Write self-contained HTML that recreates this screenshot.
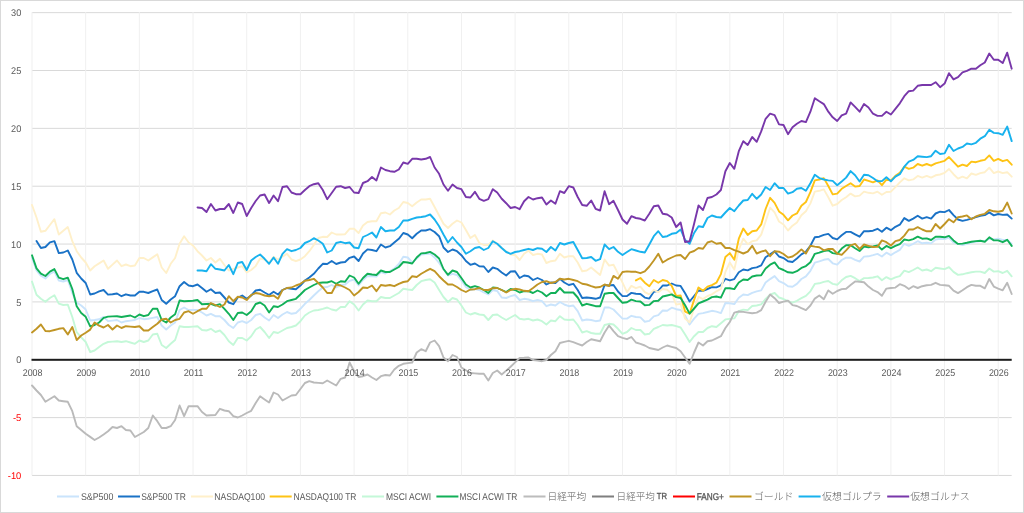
<!DOCTYPE html><html><head><meta charset="utf-8"><style>html,body{margin:0;padding:0;background:#fff;}svg{display:block;}text{text-rendering:geometricPrecision;}.t{font-family:"Liberation Sans","Noto Sans CJK JP",sans-serif;fill:#595959;}</style></head><body>
<svg width="1024" height="513" viewBox="0 0 1024 513">
<rect x="0" y="0" width="1024" height="513" fill="#fff"/>
<rect x="32" y="12.15" width="979.7" height="1" fill="#d9d9d9"/>
<rect x="32" y="70.00" width="979.7" height="1" fill="#d9d9d9"/>
<rect x="32" y="127.85" width="979.7" height="1" fill="#d9d9d9"/>
<rect x="32" y="185.70" width="979.7" height="1" fill="#d9d9d9"/>
<rect x="32" y="243.55" width="979.7" height="1" fill="#d9d9d9"/>
<rect x="32" y="301.40" width="979.7" height="1" fill="#d9d9d9"/>
<rect x="32" y="417.10" width="979.7" height="1" fill="#d9d9d9"/>
<rect x="32" y="474.95" width="979.7" height="1" fill="#d9d9d9"/>
<rect x="31.50" y="12.1" width="1" height="463.3" fill="#f0f0f0"/>
<rect x="85.18" y="12.1" width="1" height="463.3" fill="#f0f0f0"/>
<rect x="138.86" y="12.1" width="1" height="463.3" fill="#f0f0f0"/>
<rect x="192.54" y="12.1" width="1" height="463.3" fill="#f0f0f0"/>
<rect x="246.22" y="12.1" width="1" height="463.3" fill="#f0f0f0"/>
<rect x="299.90" y="12.1" width="1" height="463.3" fill="#f0f0f0"/>
<rect x="353.58" y="12.1" width="1" height="463.3" fill="#f0f0f0"/>
<rect x="407.26" y="12.1" width="1" height="463.3" fill="#f0f0f0"/>
<rect x="460.94" y="12.1" width="1" height="463.3" fill="#f0f0f0"/>
<rect x="514.62" y="12.1" width="1" height="463.3" fill="#f0f0f0"/>
<rect x="568.30" y="12.1" width="1" height="463.3" fill="#f0f0f0"/>
<rect x="621.98" y="12.1" width="1" height="463.3" fill="#f0f0f0"/>
<rect x="675.66" y="12.1" width="1" height="463.3" fill="#f0f0f0"/>
<rect x="729.34" y="12.1" width="1" height="463.3" fill="#f0f0f0"/>
<rect x="783.02" y="12.1" width="1" height="463.3" fill="#f0f0f0"/>
<rect x="836.70" y="12.1" width="1" height="463.3" fill="#f0f0f0"/>
<rect x="890.38" y="12.1" width="1" height="463.3" fill="#f0f0f0"/>
<rect x="944.06" y="12.1" width="1" height="463.3" fill="#f0f0f0"/>
<rect x="997.74" y="12.1" width="1" height="463.3" fill="#f0f0f0"/>
<rect x="31.5" y="358.8" width="980.2" height="2" fill="#1c1c1c"/>
<polyline points="32.0,258.0 36.5,270.5 40.9,275.8 45.4,278.5 49.9,274.0 54.4,271.5 58.8,280.5 63.3,281.5 67.8,280.0 72.3,293.0 76.7,302.5 81.2,305.5 85.7,309.5 90.2,320.5 94.6,320.0 99.1,319.3 103.6,316.9 108.0,321.1 112.5,320.6 117.0,320.0 121.5,322.5 125.9,321.2 130.4,320.6 134.9,320.0 139.4,318.0 143.8,319.2 148.3,318.8 152.8,317.9 157.3,317.0 161.7,325.5 166.2,329.5 170.7,325.5 175.1,322.5 179.6,310.0 184.1,307.5 188.6,310.0 193.0,310.0 197.5,310.0 202.0,312.5 206.5,315.5 210.9,313.8 215.4,316.2 219.9,316.2 224.4,320.0 228.8,325.0 233.3,328.0 237.8,322.5 242.2,321.2 246.7,323.0 251.2,320.0 255.7,315.0 260.1,313.8 264.6,317.5 269.1,320.5 273.6,315.0 278.0,318.0 282.5,314.5 287.0,312.0 291.5,313.8 295.9,313.0 300.4,308.8 304.9,303.8 309.3,300.0 313.8,295.5 318.3,291.2 322.8,287.5 327.2,287.0 331.7,285.0 336.2,287.5 340.7,285.0 345.1,284.5 349.6,280.8 354.1,279.5 358.6,285.5 363.0,280.0 367.5,276.0 372.0,276.2 376.4,276.5 380.9,272.0 385.4,273.5 389.9,271.0 394.3,268.5 398.8,264.0 403.3,256.7 407.8,257.5 412.2,262.5 416.7,258.5 421.2,254.5 425.7,254.0 430.1,253.5 434.6,257.5 439.1,263.0 443.5,269.2 448.0,275.5 452.5,273.8 457.0,275.0 461.4,280.5 465.9,287.0 470.4,290.0 474.9,289.0 479.3,290.0 483.8,292.5 488.3,294.5 492.8,290.0 497.2,291.0 501.7,297.5 506.2,298.0 510.6,296.2 515.1,295.0 519.6,300.0 524.1,298.8 528.5,299.5 533.0,301.2 537.5,300.0 542.0,301.2 546.4,306.2 550.9,304.5 555.4,305.5 559.9,302.0 564.3,304.5 568.8,306.2 573.3,305.5 577.7,311.2 582.2,320.5 586.7,319.5 591.2,320.0 595.6,321.2 600.1,320.5 604.6,307.5 609.1,307.5 613.5,309.5 618.0,314.1 622.5,318.6 627.0,318.6 631.4,315.8 635.9,317.0 640.4,317.4 644.8,321.7 649.3,320.9 653.8,316.3 658.3,315.2 662.7,310.5 667.2,310.8 671.7,307.7 676.2,309.2 680.6,310.0 685.1,315.5 689.6,324.5 694.1,318.6 698.5,313.9 703.0,313.1 707.5,312.0 711.9,310.8 716.4,311.6 720.9,313.1 725.4,303.0 729.8,303.3 734.3,304.1 738.8,297.8 743.3,294.5 747.7,295.1 752.2,292.8 756.7,291.4 761.2,290.4 765.6,282.5 770.1,279.1 774.6,276.1 779.0,281.1 783.5,283.1 788.0,286.3 792.5,286.7 796.9,283.9 801.4,279.0 805.9,276.4 810.4,270.8 814.8,262.7 819.3,261.3 823.8,259.8 828.3,259.0 832.7,263.3 837.2,264.6 841.7,260.0 846.1,257.7 850.6,257.7 855.1,259.9 859.6,261.5 864.0,256.6 868.5,256.3 873.0,255.2 877.5,253.9 881.9,256.5 886.4,252.7 890.9,255.1 895.4,252.3 899.8,249.9 904.3,243.8 908.8,245.9 913.2,243.8 917.7,241.2 922.2,243.3 926.7,242.7 931.1,243.4 935.6,239.5 940.1,238.7 944.6,239.1 949.0,237.7 953.5,242.5 958.0,243.9 962.5,245.0 966.9,243.9 971.4,242.5 975.9,241.8 980.3,241.1 984.8,241.1 989.3,238.7 993.8,239.5 998.2,238.7 1002.7,240.0 1007.2,240.0 1011.7,243.9" fill="none" stroke="#cae4fc" stroke-width="1.9" stroke-linejoin="round" stroke-linecap="round"/>
<polyline points="36.5,241.0 40.9,248.0 45.4,247.0 49.9,242.3 54.4,241.2 58.8,253.1 63.3,252.5 67.8,250.5 72.3,259.5 76.7,272.8 81.2,278.5 85.7,283.0 90.2,294.5 94.6,293.5 99.1,291.4 103.6,290.0 108.0,294.6 112.5,294.3 117.0,293.5 121.5,296.2 125.9,294.3 130.4,295.5 134.9,295.5 139.4,291.8 143.8,291.8 148.3,293.0 152.8,291.2 157.3,289.5 161.7,300.0 166.2,303.8 170.7,299.5 175.1,296.2 179.6,286.2 184.1,282.0 188.6,285.5 193.0,286.2 197.5,284.5 202.0,288.0 206.5,291.8 210.9,289.2 215.4,293.0 219.9,292.5 224.4,297.5 228.8,302.5 233.3,304.2 237.8,297.5 242.2,295.5 246.7,298.8 251.2,295.5 255.7,290.5 260.1,289.8 264.6,292.5 269.1,295.0 273.6,291.8 278.0,294.5 282.5,290.0 287.0,288.0 291.5,288.8 295.9,289.2 300.4,285.5 304.9,280.5 309.3,277.5 313.8,273.8 318.3,268.5 322.8,263.8 327.2,264.0 331.7,261.0 336.2,264.0 340.7,262.5 345.1,262.0 349.6,257.8 354.1,256.5 358.6,261.0 363.0,253.5 367.5,249.4 372.0,250.0 376.4,251.2 380.9,244.5 385.4,247.5 389.9,246.2 394.3,242.5 398.8,238.8 403.3,233.0 407.8,234.5 412.2,238.2 416.7,233.8 421.2,230.5 425.7,230.5 430.1,229.2 434.6,232.0 439.1,236.2 443.5,247.5 448.0,252.0 452.5,249.5 457.0,251.2 461.4,255.2 465.9,261.0 470.4,264.8 474.9,263.5 479.3,266.2 483.8,266.5 488.3,272.0 492.8,267.5 497.2,268.8 501.7,272.5 506.2,275.5 510.6,271.5 515.1,271.2 519.6,278.0 524.1,275.5 528.5,276.2 533.0,280.0 537.5,278.0 542.0,280.0 546.4,284.5 550.9,282.5 555.4,283.0 559.9,278.8 564.3,282.5 568.8,285.0 573.3,283.8 577.7,290.0 582.2,298.0 586.7,297.5 591.2,298.0 595.6,298.8 600.1,297.5 604.6,285.0 609.1,285.5 613.5,285.0 618.0,291.5 622.5,296.1 627.0,296.0 631.4,292.9 635.9,293.7 640.4,294.0 644.8,297.6 649.3,298.6 653.8,291.8 658.3,290.8 662.7,285.5 667.2,285.5 671.7,283.5 676.2,285.5 680.6,285.9 685.1,293.3 689.6,301.5 694.1,296.0 698.5,290.5 703.0,290.8 707.5,289.0 711.9,287.2 716.4,287.4 720.9,285.4 725.4,278.8 729.8,280.4 734.3,279.1 738.8,272.2 743.3,269.5 747.7,270.4 752.2,268.1 756.7,267.4 761.2,265.4 765.6,257.2 770.1,254.4 774.6,251.3 779.0,256.5 783.5,258.1 788.0,261.3 792.5,262.0 796.9,258.5 801.4,254.4 805.9,251.7 810.4,245.8 814.8,237.3 819.3,236.7 823.8,234.9 828.3,233.9 832.7,238.0 837.2,239.4 841.7,235.3 846.1,231.9 850.6,231.9 855.1,234.3 859.6,236.7 864.0,231.2 868.5,231.2 873.0,230.7 877.5,228.8 881.9,231.8 886.4,227.7 890.9,230.2 895.4,226.8 899.8,224.7 904.3,218.1 908.8,220.9 913.2,218.6 917.7,215.8 922.2,218.6 926.7,217.2 931.1,218.6 935.6,213.5 940.1,211.7 944.6,212.1 949.0,210.0 953.5,215.1 958.0,219.5 962.5,220.9 966.9,219.9 971.4,218.6 975.9,217.2 980.3,215.8 984.8,215.1 989.3,212.4 993.8,215.4 998.2,214.0 1002.7,214.9 1007.2,214.5 1011.7,218.6" fill="none" stroke="#1a72c6" stroke-width="1.9" stroke-linejoin="round" stroke-linecap="round"/>
<polyline points="32.0,205.0 36.5,217.5 40.9,231.8 45.4,230.8 49.9,225.0 54.4,219.2 58.8,234.5 63.3,230.8 67.8,227.0 72.3,241.2 76.7,251.2 81.2,257.5 85.7,262.5 90.2,270.5 94.6,266.2 99.1,263.4 103.6,260.5 108.0,268.8 112.5,264.6 117.0,260.5 121.5,266.2 125.9,264.5 130.4,266.2 134.9,265.5 139.4,258.0 143.8,258.0 148.3,260.5 152.8,257.4 157.3,254.2 161.7,267.5 166.2,273.0 170.7,263.8 175.1,258.0 179.6,243.8 184.1,236.2 188.6,242.5 193.0,245.5 197.5,251.2 202.0,255.5 206.5,260.5 210.9,258.0 215.4,262.5 219.9,258.8 224.4,265.0 228.8,270.5 233.3,268.8 237.8,267.5 242.2,266.2 246.7,272.5 251.2,270.0 255.7,266.1 260.1,258.5 264.6,259.5 269.1,262.5 273.6,256.8 278.0,259.5 282.5,256.6 287.0,253.8 291.5,259.5 295.9,261.2 300.4,259.5 304.9,256.2 309.3,251.2 313.8,245.0 318.3,238.0 322.8,236.8 327.2,237.0 331.7,232.5 336.2,234.5 340.7,234.5 345.1,234.2 349.6,228.8 354.1,228.8 358.6,233.0 363.0,225.5 367.5,222.0 372.0,221.2 376.4,221.2 380.9,213.2 385.4,212.5 389.9,214.5 394.3,210.5 398.8,208.0 403.3,202.0 407.8,203.0 412.2,206.2 416.7,202.5 421.2,199.5 425.7,199.5 430.1,198.8 434.6,207.0 439.1,215.5 443.5,223.8 448.0,228.0 452.5,223.8 457.0,220.5 461.4,222.5 465.9,230.0 470.4,238.0 474.9,235.0 479.3,243.0 483.8,245.0 488.3,245.0 492.8,240.5 497.2,243.8 501.7,248.0 506.2,251.2 510.6,254.5 515.1,255.0 519.6,260.0 524.1,253.8 528.5,250.8 533.0,255.0 537.5,253.8 542.0,254.5 546.4,263.0 550.9,261.2 555.4,260.5 559.9,253.8 564.3,257.5 568.8,256.2 573.3,256.2 577.7,262.5 582.2,271.2 586.7,270.5 591.2,267.5 595.6,271.2 600.1,275.0 604.6,259.5 609.1,265.6 613.5,264.8 618.0,273.4 622.5,282.7 627.0,292.1 631.4,285.9 635.9,288.2 640.4,286.6 644.8,292.1 649.3,294.4 653.8,289.8 658.3,292.1 662.7,289.0 667.2,289.8 671.7,293.7 676.2,304.6 680.6,303.8 685.1,318.6 689.6,322.5 694.1,308.5 698.5,296.8 703.0,299.1 707.5,296.0 711.9,294.4 716.4,291.3 720.9,289.0 725.4,271.9 729.8,262.5 734.3,269.5 738.8,249.6 743.3,238.7 747.7,244.2 752.2,241.2 756.7,240.4 761.2,234.6 765.6,221.5 770.1,207.7 774.6,212.4 779.0,221.5 783.5,224.5 788.0,230.5 792.5,225.7 796.9,222.5 801.4,215.2 805.9,211.3 810.4,203.4 814.8,191.6 819.3,190.8 823.8,189.4 828.3,197.2 832.7,205.7 837.2,204.0 841.7,200.0 846.1,197.2 850.6,193.6 855.1,196.4 859.6,195.6 864.0,191.6 868.5,192.8 873.0,193.4 877.5,191.7 881.9,194.7 886.4,192.0 890.9,191.7 895.4,187.2 899.8,182.4 904.3,178.3 908.8,180.4 913.2,179.4 917.7,175.9 922.2,177.6 926.7,175.9 931.1,177.6 935.6,175.3 940.1,174.5 944.6,172.9 949.0,169.0 953.5,174.2 958.0,178.6 962.5,176.7 966.9,178.3 971.4,173.5 975.9,174.9 980.3,173.1 984.8,172.2 989.3,167.7 993.8,173.1 998.2,171.5 1002.7,173.1 1007.2,172.2 1011.7,176.7" fill="none" stroke="#fff0ca" stroke-width="1.9" stroke-linejoin="round" stroke-linecap="round"/>
<polyline points="635.9,280.4 640.4,278.0 644.8,282.7 649.3,286.2 653.8,280.0 658.3,282.7 662.7,280.0 667.2,281.2 671.7,285.9 676.2,296.0 680.6,295.5 685.1,311.6 689.6,313.6 694.1,299.9 698.5,287.4 703.0,290.8 707.5,286.6 711.9,285.1 716.4,282.7 720.9,274.1 725.4,257.0 729.8,253.1 734.3,259.7 738.8,238.7 743.3,228.5 747.7,234.9 752.2,231.2 756.7,230.5 761.2,224.4 765.6,209.0 770.1,197.8 774.6,202.9 779.0,211.4 783.5,214.8 788.0,220.3 792.5,215.5 796.9,213.4 801.4,205.7 805.9,202.0 810.4,192.2 814.8,180.4 819.3,179.5 823.8,178.1 828.3,186.0 832.7,194.4 837.2,193.6 841.7,188.8 846.1,186.0 850.6,183.2 855.1,186.6 859.6,186.0 864.0,179.5 868.5,180.9 873.0,182.4 877.5,180.4 881.9,185.2 886.4,179.7 890.9,180.4 895.4,175.9 899.8,172.9 904.3,166.7 908.8,168.8 913.2,167.7 917.7,164.0 922.2,165.7 926.7,164.0 931.1,165.7 935.6,163.3 940.1,162.2 944.6,160.8 949.0,157.1 953.5,161.9 958.0,166.7 962.5,164.7 966.9,166.0 971.4,161.6 975.9,162.2 980.3,160.8 984.8,159.9 989.3,155.4 993.8,160.8 998.2,158.9 1002.7,161.2 1007.2,159.9 1011.7,164.7" fill="none" stroke="#fec315" stroke-width="1.9" stroke-linejoin="round" stroke-linecap="round"/>
<polyline points="32.0,281.6 36.5,294.7 40.9,298.8 45.4,301.8 49.9,298.0 54.4,295.2 58.8,303.6 63.3,305.0 67.8,304.6 72.3,317.0 76.7,332.2 81.2,337.4 85.7,342.0 90.2,352.0 94.6,350.5 99.1,347.1 103.6,343.8 108.0,342.0 112.5,341.6 117.0,341.2 121.5,342.0 125.9,341.2 130.4,342.5 134.9,343.8 139.4,340.5 143.8,342.0 148.3,340.5 152.8,334.5 157.3,333.8 161.7,345.0 166.2,348.0 170.7,343.8 175.1,340.0 179.6,326.2 184.1,327.0 188.6,327.0 193.0,326.6 197.5,326.2 202.0,330.0 206.5,330.5 210.9,328.8 215.4,332.0 219.9,330.5 224.4,335.0 228.8,341.2 233.3,345.0 237.8,338.0 242.2,338.0 246.7,340.5 251.2,336.2 255.7,329.5 260.1,327.0 264.6,332.0 269.1,338.0 273.6,332.0 278.0,333.0 282.5,330.5 287.0,328.0 291.5,327.0 295.9,325.5 300.4,321.2 304.9,315.5 309.3,312.5 313.8,310.5 318.3,310.0 322.8,308.8 327.2,307.5 331.7,309.5 336.2,310.5 340.7,307.0 345.1,307.0 349.6,301.2 354.1,304.5 358.6,310.5 363.0,304.5 367.5,300.5 372.0,301.2 376.4,301.2 380.9,297.0 385.4,298.0 389.9,298.0 394.3,295.5 398.8,293.0 403.3,288.8 407.8,289.5 412.2,290.0 416.7,285.0 421.2,281.2 425.7,280.0 430.1,279.2 434.6,282.5 439.1,290.0 443.5,297.0 448.0,302.0 452.5,298.0 457.0,299.5 461.4,305.5 465.9,312.5 470.4,314.5 474.9,313.0 479.3,314.5 483.8,315.0 488.3,320.0 492.8,315.0 497.2,314.5 501.7,317.5 506.2,320.0 510.6,317.5 515.1,315.0 519.6,318.8 524.1,319.5 528.5,318.8 533.0,320.5 537.5,319.5 542.0,321.2 546.4,324.5 550.9,320.5 555.4,321.2 559.9,316.2 564.3,319.5 568.8,320.0 573.3,319.5 577.7,325.0 582.2,332.5 586.7,331.2 591.2,333.0 595.6,333.8 600.1,333.8 604.6,325.0 609.1,323.8 613.5,324.5 618.0,328.8 622.5,333.8 627.0,332.0 631.4,328.0 635.9,330.0 640.4,330.0 644.8,334.5 649.3,333.8 653.8,328.8 658.3,327.0 662.7,325.0 667.2,325.5 671.7,325.0 676.2,326.2 680.6,327.5 685.1,334.5 689.6,342.0 694.1,336.2 698.5,332.0 703.0,332.0 707.5,328.0 711.9,326.2 716.4,327.0 720.9,323.2 725.4,319.4 729.8,318.9 734.3,318.4 738.8,311.2 743.3,309.6 747.7,310.1 752.2,306.0 756.7,305.5 761.2,304.4 765.6,298.9 770.1,294.6 774.6,293.0 779.0,297.5 783.5,299.0 788.0,301.2 792.5,302.7 796.9,300.8 801.4,298.1 805.9,295.9 810.4,291.3 814.8,283.9 819.3,283.3 823.8,281.9 828.3,281.0 832.7,283.9 837.2,284.8 841.7,280.3 846.1,277.0 850.6,275.9 855.1,278.2 859.6,281.0 864.0,278.1 868.5,278.0 873.0,277.5 877.5,276.3 881.9,280.3 886.4,277.1 890.9,279.4 895.4,277.4 899.8,276.1 904.3,270.6 908.8,272.1 913.2,270.0 917.7,267.5 922.2,270.5 926.7,269.5 931.1,271.2 935.6,267.8 940.1,268.5 944.6,269.1 949.0,267.1 953.5,271.9 958.0,274.9 962.5,274.3 966.9,273.2 971.4,272.3 975.9,271.6 980.3,271.6 984.8,273.0 989.3,268.5 993.8,271.6 998.2,271.2 1002.7,273.0 1007.2,270.8 1011.7,276.3" fill="none" stroke="#c4f8d8" stroke-width="1.9" stroke-linejoin="round" stroke-linecap="round"/>
<polyline points="32.0,255.3 36.5,268.4 40.9,273.7 45.4,276.0 49.9,271.6 54.4,269.1 58.8,277.6 63.3,279.2 67.8,277.7 72.3,289.0 76.7,306.2 81.2,313.1 85.7,316.8 90.2,326.3 94.6,325.0 99.1,322.5 103.6,317.8 108.0,316.6 112.5,316.4 117.0,316.2 121.5,317.0 125.9,316.2 130.4,315.5 134.9,317.5 139.4,314.5 143.8,316.2 148.3,315.0 152.8,308.8 157.3,308.8 161.7,320.0 166.2,322.5 170.7,317.5 175.1,314.2 179.6,300.5 184.1,301.2 188.6,301.0 193.0,300.8 197.5,300.0 202.0,304.2 206.5,304.0 210.9,303.8 215.4,305.5 219.9,304.2 224.4,308.8 228.8,313.8 233.3,320.0 237.8,313.0 242.2,312.5 246.7,315.0 251.2,311.2 255.7,304.0 260.1,302.5 264.6,305.5 269.1,312.5 273.6,306.2 278.0,307.0 282.5,304.5 287.0,301.2 291.5,300.0 295.9,298.8 300.4,294.5 304.9,290.0 309.3,287.5 313.8,285.0 318.3,283.0 322.8,282.5 327.2,282.5 331.7,281.2 336.2,283.8 340.7,281.2 345.1,281.8 349.6,275.5 354.1,277.5 358.6,283.8 363.0,278.0 367.5,273.8 372.0,274.5 376.4,275.0 380.9,270.5 385.4,272.0 389.9,272.0 394.3,269.5 398.8,267.0 403.3,262.0 407.8,262.5 412.2,263.5 416.7,257.5 421.2,253.4 425.7,253.0 430.1,251.9 434.6,254.5 439.1,258.5 443.5,269.0 448.0,274.8 452.5,270.5 457.0,272.0 461.4,278.0 465.9,284.5 470.4,287.5 474.9,286.2 479.3,287.5 483.8,290.0 488.3,293.0 492.8,287.5 497.2,288.0 501.7,290.0 506.2,292.0 510.6,289.0 515.1,290.0 519.6,292.5 524.1,291.2 528.5,291.2 533.0,293.0 537.5,290.5 542.0,292.5 546.4,296.2 550.9,293.0 555.4,293.0 559.9,288.0 564.3,292.5 568.8,292.5 573.3,292.5 577.7,297.5 582.2,305.5 586.7,303.8 591.2,305.0 595.6,306.2 600.1,306.2 604.6,293.8 609.1,293.0 613.5,293.0 618.0,298.0 622.5,302.8 627.0,302.2 631.4,299.6 635.9,301.1 640.4,301.5 644.8,305.3 649.3,304.9 653.8,301.1 658.3,300.7 662.7,296.5 667.2,295.5 671.7,294.4 676.2,297.1 680.6,298.0 685.1,305.3 689.6,313.6 694.1,308.5 698.5,303.3 703.0,301.5 707.5,299.6 711.9,297.1 716.4,296.5 720.9,297.6 725.4,288.2 729.8,288.2 734.3,289.1 738.8,282.5 743.3,279.5 747.7,280.0 752.2,276.5 756.7,275.5 761.2,275.2 765.6,268.5 770.1,264.7 774.6,262.4 779.0,268.2 783.5,270.0 788.0,272.3 792.5,272.8 796.9,271.2 801.4,267.9 805.9,266.1 810.4,262.3 814.8,253.8 819.3,252.7 823.8,251.0 828.3,250.3 832.7,253.1 837.2,253.8 841.7,248.6 846.1,245.3 850.6,245.3 855.1,248.3 859.6,251.0 864.0,246.6 868.5,247.2 873.0,246.5 877.5,245.5 881.9,249.6 886.4,245.9 890.9,248.2 895.4,245.9 899.8,244.1 904.3,239.5 908.8,240.4 913.2,239.1 917.7,236.7 922.2,238.7 926.7,238.4 931.1,240.0 935.6,236.7 940.1,236.7 944.6,237.3 949.0,235.9 953.5,240.4 958.0,243.9 962.5,243.6 966.9,242.8 971.4,241.8 975.9,241.1 980.3,240.8 984.8,241.8 989.3,237.3 993.8,240.4 998.2,240.4 1002.7,242.2 1007.2,239.8 1011.7,245.9" fill="none" stroke="#12b058" stroke-width="1.9" stroke-linejoin="round" stroke-linecap="round"/>
<polyline points="32.0,385.5 36.5,390.5 40.9,395.0 45.4,401.8 49.9,399.0 54.4,396.2 58.8,400.5 63.3,401.2 67.8,401.8 72.3,411.2 76.7,426.2 81.2,430.0 85.7,433.8 90.2,436.9 94.6,440.0 99.1,437.5 103.6,434.5 108.0,431.2 112.5,427.0 117.0,428.0 121.5,426.2 125.9,430.0 130.4,430.5 134.9,437.0 139.4,434.5 143.8,432.0 148.3,428.0 152.8,415.5 157.3,421.2 161.7,428.0 166.2,428.0 170.7,426.2 175.1,420.0 179.6,405.5 184.1,416.2 188.6,406.2 193.0,406.2 197.5,406.2 202.0,412.0 206.5,415.5 210.9,415.2 215.4,415.0 219.9,408.8 224.4,410.5 228.8,411.2 233.3,416.2 237.8,417.5 242.2,415.5 246.7,413.0 251.2,410.8 255.7,403.0 260.1,396.2 264.6,399.4 269.1,402.5 273.6,392.5 278.0,394.5 282.5,400.5 287.0,398.0 291.5,395.5 295.9,395.0 300.4,389.0 304.9,383.0 309.3,381.2 313.8,382.5 318.3,382.9 322.8,383.2 327.2,380.5 331.7,383.0 336.2,385.5 340.7,378.8 345.1,377.5 349.6,362.5 354.1,371.2 358.6,377.0 363.0,376.2 367.5,374.5 372.0,377.5 376.4,380.0 380.9,376.2 385.4,375.0 389.9,375.5 394.3,369.5 398.8,365.8 403.3,363.8 407.8,363.1 412.2,362.5 416.7,352.5 421.2,349.2 425.7,351.2 430.1,342.5 434.6,340.5 439.1,346.2 443.5,357.5 448.0,361.2 452.5,355.0 457.0,357.0 461.4,367.5 465.9,370.2 470.4,373.0 474.9,373.4 479.3,373.8 483.8,373.8 488.3,380.5 492.8,373.0 497.2,370.5 501.7,374.5 506.2,370.6 510.6,366.8 515.1,362.4 519.6,358.0 524.1,357.8 528.5,357.5 533.0,360.0 537.5,360.6 542.0,361.2 546.4,360.0 550.9,355.0 555.4,351.2 559.9,343.0 564.3,341.9 568.8,340.8 573.3,342.2 577.7,343.8 582.2,345.5 586.7,342.0 591.2,339.2 595.6,340.2 600.1,341.2 604.6,332.5 609.1,325.5 613.5,331.2 618.0,336.2 622.5,337.8 627.0,339.2 631.4,337.0 635.9,342.5 640.4,343.8 644.8,345.5 649.3,348.0 653.8,349.0 658.3,350.0 662.7,347.5 667.2,345.5 671.7,346.8 676.2,348.0 680.6,351.2 685.1,357.5 689.6,363.8 694.1,352.5 698.5,342.5 703.0,345.5 707.5,341.2 711.9,340.5 716.4,338.4 720.9,336.2 725.4,328.0 729.8,322.0 734.3,312.6 738.8,311.5 743.3,311.9 747.7,312.6 752.2,313.3 756.7,312.6 761.2,310.1 765.6,301.7 770.1,294.5 774.6,298.2 779.0,303.0 783.5,301.7 788.0,300.6 792.5,305.1 796.9,306.0 801.4,308.2 805.9,310.1 810.4,305.5 814.8,298.6 819.3,295.5 823.8,299.2 828.3,290.4 832.7,293.7 837.2,291.0 841.7,289.1 846.1,288.7 850.6,285.0 855.1,281.4 859.6,281.8 864.0,282.2 868.5,286.6 873.0,290.0 877.5,292.1 881.9,295.8 886.4,288.6 890.9,288.0 895.4,287.6 899.8,284.2 904.3,285.8 908.8,289.0 913.2,286.2 917.7,288.0 922.2,286.2 926.7,285.3 931.1,284.9 935.6,282.8 940.1,284.9 944.6,285.3 949.0,285.8 953.5,290.7 958.0,293.1 962.5,290.3 966.9,287.2 971.4,284.9 975.9,285.8 980.3,285.8 984.8,288.3 989.3,279.0 993.8,286.6 998.2,288.6 1002.7,290.3 1007.2,282.8 1011.7,294.0" fill="none" stroke="#bababa" stroke-width="1.9" stroke-linejoin="round" stroke-linecap="round"/>
<polyline points="32.0,332.5 36.5,328.8 40.9,324.5 45.4,331.0 49.9,331.2 54.4,330.0 58.8,328.8 63.3,328.1 67.8,334.4 72.3,327.0 76.7,340.0 81.2,335.5 85.7,332.7 90.2,329.6 94.6,322.6 99.1,325.6 103.6,327.5 108.0,325.0 112.5,329.5 117.0,325.5 121.5,328.0 125.9,326.2 130.4,326.6 134.9,327.0 139.4,326.2 143.8,330.5 148.3,330.5 152.8,327.1 157.3,323.8 161.7,319.5 166.2,318.8 170.7,322.5 175.1,320.0 179.6,318.8 184.1,312.5 188.6,311.2 193.0,313.8 197.5,311.2 202.0,308.8 206.5,308.8 210.9,303.0 215.4,305.0 219.9,307.0 224.4,304.5 228.8,296.2 233.3,301.2 237.8,296.8 242.2,297.5 246.7,300.0 251.2,295.0 255.7,293.0 260.1,293.8 264.6,295.5 269.1,296.2 273.6,295.5 278.0,298.8 282.5,290.0 287.0,288.0 291.5,287.5 295.9,285.5 300.4,283.8 304.9,280.8 309.3,280.0 313.8,278.8 318.3,283.0 322.8,287.5 327.2,293.0 331.7,293.0 336.2,284.5 340.7,285.5 345.1,287.5 349.6,290.0 354.1,295.5 358.6,292.0 363.0,287.5 367.5,288.0 372.0,285.5 376.4,291.2 380.9,285.0 385.4,285.8 389.9,285.0 394.3,286.2 398.8,283.8 403.3,282.0 407.8,281.2 412.2,276.2 416.7,277.0 421.2,273.8 425.7,271.2 430.1,268.8 434.6,271.2 439.1,276.2 443.5,280.5 448.0,284.5 452.5,284.5 457.0,287.0 461.4,290.0 465.9,292.0 470.4,289.5 474.9,289.2 479.3,288.0 483.8,290.0 488.3,290.0 492.8,288.2 497.2,288.0 501.7,290.0 506.2,292.5 510.6,290.0 515.1,288.8 519.6,289.5 524.1,290.8 528.5,291.2 533.0,288.0 537.5,284.5 542.0,282.0 546.4,281.2 550.9,283.0 555.4,282.0 559.9,278.8 564.3,279.5 568.8,278.8 573.3,280.0 577.7,281.2 582.2,283.8 586.7,284.5 591.2,286.2 595.6,287.5 600.1,287.0 604.6,284.5 609.1,286.0 613.5,275.9 618.0,278.8 622.5,272.0 627.0,271.4 631.4,271.8 635.9,271.8 640.4,273.2 644.8,271.4 649.3,266.5 653.8,260.5 658.3,253.8 662.7,262.5 667.2,259.7 671.7,257.5 676.2,255.5 680.6,255.0 685.1,259.0 689.6,252.7 694.1,251.0 698.5,248.0 703.0,248.8 707.5,242.5 711.9,241.2 716.4,243.8 720.9,243.0 725.4,248.0 729.8,248.0 734.3,250.2 738.8,251.7 743.3,253.5 747.7,251.7 752.2,245.8 756.7,253.5 761.2,251.7 765.6,250.3 770.1,256.2 774.6,251.3 779.0,251.7 783.5,254.0 788.0,257.6 792.5,256.5 796.9,253.5 801.4,249.4 805.9,253.5 810.4,245.8 814.8,246.6 819.3,247.2 823.8,250.3 828.3,249.0 832.7,249.0 837.2,253.5 841.7,254.8 846.1,250.3 850.6,245.3 855.1,243.9 859.6,249.0 864.0,244.5 868.5,245.8 873.0,247.0 877.5,246.9 881.9,240.4 886.4,242.2 890.9,245.5 895.4,241.1 899.8,240.0 904.3,235.6 908.8,229.5 913.2,229.5 917.7,227.2 922.2,229.5 926.7,231.3 931.1,231.3 935.6,224.0 940.1,228.5 944.6,224.0 949.0,219.2 953.5,222.3 958.0,217.2 962.5,216.5 966.9,215.4 971.4,219.2 975.9,216.5 980.3,214.9 984.8,213.8 989.3,210.0 993.8,211.3 998.2,211.7 1002.7,210.8 1007.2,202.6 1011.7,213.5" fill="none" stroke="#c09525" stroke-width="1.9" stroke-linejoin="round" stroke-linecap="round"/>
<polyline points="197.5,270.5 202.0,270.5 206.5,271.2 210.9,264.2 215.4,268.8 219.9,269.5 224.4,270.5 228.8,265.0 233.3,274.2 237.8,263.0 242.2,262.0 246.7,270.0 251.2,260.5 255.7,257.0 260.1,254.5 264.6,258.8 269.1,263.8 273.6,257.5 278.0,263.8 282.5,253.8 287.0,249.2 291.5,251.2 295.9,250.0 300.4,248.0 304.9,243.0 309.3,241.2 313.8,238.2 318.3,240.5 322.8,243.8 327.2,252.5 331.7,250.5 336.2,243.0 340.7,241.8 345.1,243.2 349.6,242.5 354.1,247.5 358.6,248.2 363.0,237.0 367.5,235.0 372.0,232.5 376.4,237.5 380.9,227.0 385.4,231.2 389.9,230.5 394.3,230.5 398.8,227.0 403.3,220.5 407.8,220.5 412.2,218.8 416.7,217.5 421.2,217.0 425.7,216.2 430.1,214.5 434.6,219.5 439.1,226.2 443.5,234.5 448.0,242.5 452.5,237.0 457.0,242.5 461.4,247.0 465.9,253.8 470.4,251.2 474.9,248.0 479.3,247.0 483.8,250.0 488.3,248.0 492.8,241.2 497.2,243.8 501.7,248.0 506.2,252.0 510.6,253.8 515.1,252.0 519.6,251.2 524.1,250.0 528.5,248.8 533.0,250.0 537.5,248.2 542.0,248.8 546.4,252.0 550.9,247.0 555.4,250.5 559.9,243.0 564.3,244.5 568.8,243.0 573.3,242.0 577.7,250.0 582.2,258.2 586.7,258.0 591.2,257.0 595.6,260.8 600.1,259.2 604.6,244.5 609.1,249.2 613.5,247.0 618.0,251.8 622.5,255.0 627.0,252.0 631.4,249.2 635.9,250.5 640.4,251.8 644.8,252.5 649.3,244.5 653.8,236.2 658.3,231.2 662.7,237.0 667.2,236.2 671.7,233.8 676.2,233.0 680.6,229.5 685.1,240.0 689.6,243.8 694.1,233.0 698.5,226.2 703.0,227.0 707.5,218.0 711.9,215.5 716.4,217.0 720.9,217.5 725.4,212.5 729.8,208.0 734.3,211.2 738.8,205.5 743.3,200.5 747.7,200.0 752.2,193.8 756.7,198.8 761.2,194.5 765.6,187.0 770.1,190.0 774.6,183.2 779.0,188.0 783.5,188.0 788.0,193.6 792.5,192.2 796.9,188.8 801.4,188.0 805.9,190.8 810.4,183.2 814.8,174.8 819.3,178.1 823.8,179.5 828.3,180.4 832.7,180.9 837.2,185.2 841.7,181.5 846.1,177.6 850.6,171.1 855.1,175.3 859.6,181.5 864.0,174.8 868.5,175.3 873.0,178.0 877.5,181.3 881.9,181.1 886.4,177.2 890.9,181.3 895.4,176.7 899.8,174.2 904.3,166.7 908.8,161.6 913.2,159.9 917.7,156.2 922.2,156.7 926.7,157.1 931.1,156.2 935.6,150.7 940.1,154.0 944.6,153.4 949.0,144.8 953.5,151.0 958.0,148.5 962.5,146.9 966.9,143.5 971.4,144.4 975.9,142.8 980.3,138.7 984.8,136.2 989.3,129.8 993.8,132.9 998.2,133.2 1002.7,134.8 1007.2,126.6 1011.7,141.1" fill="none" stroke="#18b2ee" stroke-width="1.9" stroke-linejoin="round" stroke-linecap="round"/>
<polyline points="197.5,207.5 202.0,208.0 206.5,212.0 210.9,204.0 215.4,210.5 219.9,209.0 224.4,209.0 228.8,204.0 233.3,213.0 237.8,202.5 242.2,204.0 246.7,216.0 251.2,208.0 255.7,201.0 260.1,195.5 264.6,194.5 269.1,203.0 273.6,195.5 278.0,201.2 282.5,187.0 287.0,186.2 291.5,192.5 295.9,194.2 300.4,194.2 304.9,190.0 309.3,186.2 313.8,184.2 318.3,183.2 322.8,190.0 327.2,199.2 331.7,193.0 336.2,186.8 340.7,186.2 345.1,188.0 349.6,187.0 354.1,192.5 358.6,193.0 363.0,183.0 367.5,181.2 372.0,177.0 376.4,180.5 380.9,167.5 385.4,170.0 389.9,171.2 394.3,171.8 398.8,169.5 403.3,162.5 407.8,163.8 412.2,158.8 416.7,158.8 421.2,159.5 425.7,158.8 430.1,157.0 434.6,167.5 439.1,173.8 443.5,184.5 448.0,190.8 452.5,184.5 457.0,188.0 461.4,189.2 465.9,197.0 470.4,197.5 474.9,191.8 479.3,198.8 483.8,200.8 488.3,199.2 492.8,189.2 497.2,192.5 501.7,198.8 506.2,203.2 510.6,208.0 515.1,207.0 519.6,209.2 524.1,201.2 528.5,197.0 533.0,199.5 537.5,198.2 542.0,197.5 546.4,204.5 550.9,200.5 555.4,203.8 559.9,191.2 564.3,193.0 568.8,186.2 573.3,187.5 577.7,197.0 582.2,205.0 586.7,205.8 591.2,200.5 595.6,208.8 600.1,210.5 604.6,191.2 609.1,204.2 613.5,200.8 618.0,210.0 622.5,219.5 627.0,223.8 631.4,216.2 635.9,218.0 640.4,218.8 644.8,220.5 649.3,213.8 653.8,206.2 658.3,205.5 662.7,213.8 667.2,214.5 671.7,217.5 676.2,227.0 680.6,222.5 685.1,242.0 689.6,241.2 694.1,223.8 698.5,205.5 703.0,210.0 707.5,198.0 711.9,197.0 716.4,194.5 720.9,190.0 725.4,171.2 729.8,163.0 734.3,168.8 738.8,151.2 743.3,141.2 747.7,145.0 752.2,137.0 756.7,141.8 761.2,131.4 765.6,118.8 770.1,113.7 774.6,115.1 779.0,124.4 783.5,125.0 788.0,134.2 792.5,127.2 796.9,123.8 801.4,121.0 805.9,122.1 810.4,111.7 814.8,98.2 819.3,101.3 823.8,104.1 828.3,111.7 832.7,117.3 837.2,121.0 841.7,115.4 846.1,113.7 850.6,102.4 855.1,106.9 859.6,111.7 864.0,104.1 868.5,107.5 873.0,113.7 877.5,115.9 881.9,115.9 886.4,111.7 890.9,114.5 895.4,108.9 899.8,103.3 904.3,96.2 908.8,91.2 913.2,90.6 917.7,85.8 922.2,85.0 926.7,85.0 931.1,85.0 935.6,82.2 940.1,87.2 944.6,83.6 949.0,73.2 953.5,79.4 958.0,77.1 962.5,72.3 966.9,70.9 971.4,68.7 975.9,68.7 980.3,65.3 984.8,62.5 989.3,53.5 993.8,59.7 998.2,59.7 1002.7,63.1 1007.2,52.7 1011.7,68.7" fill="none" stroke="#7837aa" stroke-width="1.9" stroke-linejoin="round" stroke-linecap="round"/>
<text class="t" x="11.1" y="16.2" font-size="9.7" textLength="10.2" lengthAdjust="spacingAndGlyphs" style="fill:#595959">30</text>
<text class="t" x="11.1" y="74.1" font-size="9.7" textLength="10.2" lengthAdjust="spacingAndGlyphs" style="fill:#595959">25</text>
<text class="t" x="11.1" y="131.9" font-size="9.7" textLength="10.2" lengthAdjust="spacingAndGlyphs" style="fill:#595959">20</text>
<text class="t" x="11.1" y="189.8" font-size="9.7" textLength="10.2" lengthAdjust="spacingAndGlyphs" style="fill:#595959">15</text>
<text class="t" x="11.1" y="247.7" font-size="9.7" textLength="10.2" lengthAdjust="spacingAndGlyphs" style="fill:#595959">10</text>
<text class="t" x="16.2" y="305.5" font-size="9.7" textLength="5.1" lengthAdjust="spacingAndGlyphs" style="fill:#595959">5</text>
<text class="t" x="16.2" y="363.4" font-size="9.7" textLength="5.1" lengthAdjust="spacingAndGlyphs" style="fill:#595959">0</text>
<text class="t" x="12.9" y="421.2" font-size="9.7" textLength="8.4" lengthAdjust="spacingAndGlyphs" style="fill:#ff0000">-5</text>
<text class="t" x="7.8" y="479.1" font-size="9.7" textLength="13.5" lengthAdjust="spacingAndGlyphs" style="fill:#ff0000">-10</text>
<text class="t" x="22.7" y="375.9" font-size="9.8" textLength="19.8" lengthAdjust="spacingAndGlyphs">2008</text>
<text class="t" x="76.4" y="375.9" font-size="9.8" textLength="19.8" lengthAdjust="spacingAndGlyphs">2009</text>
<text class="t" x="130.1" y="375.9" font-size="9.8" textLength="19.8" lengthAdjust="spacingAndGlyphs">2010</text>
<text class="t" x="183.7" y="375.9" font-size="9.8" textLength="19.8" lengthAdjust="spacingAndGlyphs">2011</text>
<text class="t" x="237.4" y="375.9" font-size="9.8" textLength="19.8" lengthAdjust="spacingAndGlyphs">2012</text>
<text class="t" x="291.1" y="375.9" font-size="9.8" textLength="19.8" lengthAdjust="spacingAndGlyphs">2013</text>
<text class="t" x="344.8" y="375.9" font-size="9.8" textLength="19.8" lengthAdjust="spacingAndGlyphs">2014</text>
<text class="t" x="398.5" y="375.9" font-size="9.8" textLength="19.8" lengthAdjust="spacingAndGlyphs">2015</text>
<text class="t" x="452.1" y="375.9" font-size="9.8" textLength="19.8" lengthAdjust="spacingAndGlyphs">2016</text>
<text class="t" x="505.8" y="375.9" font-size="9.8" textLength="19.8" lengthAdjust="spacingAndGlyphs">2017</text>
<text class="t" x="559.5" y="375.9" font-size="9.8" textLength="19.8" lengthAdjust="spacingAndGlyphs">2018</text>
<text class="t" x="613.2" y="375.9" font-size="9.8" textLength="19.8" lengthAdjust="spacingAndGlyphs">2019</text>
<text class="t" x="666.9" y="375.9" font-size="9.8" textLength="19.8" lengthAdjust="spacingAndGlyphs">2020</text>
<text class="t" x="720.5" y="375.9" font-size="9.8" textLength="19.8" lengthAdjust="spacingAndGlyphs">2021</text>
<text class="t" x="774.2" y="375.9" font-size="9.8" textLength="19.8" lengthAdjust="spacingAndGlyphs">2022</text>
<text class="t" x="827.9" y="375.9" font-size="9.8" textLength="19.8" lengthAdjust="spacingAndGlyphs">2023</text>
<text class="t" x="881.6" y="375.9" font-size="9.8" textLength="19.8" lengthAdjust="spacingAndGlyphs">2024</text>
<text class="t" x="935.3" y="375.9" font-size="9.8" textLength="19.8" lengthAdjust="spacingAndGlyphs">2025</text>
<text class="t" x="988.9" y="375.9" font-size="9.8" textLength="19.8" lengthAdjust="spacingAndGlyphs">2026</text>
<rect x="57.0" y="495.5" width="22.0" height="2" fill="#cae4fc"/>
<text class="t" x="80.9" y="500.1" font-size="9.8" textLength="32.5" lengthAdjust="spacingAndGlyphs">S&amp;P500</text>
<rect x="118.0" y="495.5" width="22.0" height="2" fill="#1a72c6"/>
<text class="t" x="141.2" y="500.1" font-size="9.8" textLength="44.6" lengthAdjust="spacingAndGlyphs">S&amp;P500 TR</text>
<rect x="191.0" y="495.5" width="22.0" height="2" fill="#fff0ca"/>
<text class="t" x="214.2" y="500.1" font-size="9.8" textLength="50.8" lengthAdjust="spacingAndGlyphs">NASDAQ100</text>
<rect x="269.7" y="495.5" width="22.0" height="2" fill="#fec315"/>
<text class="t" x="293.6" y="500.1" font-size="9.8" textLength="62.8" lengthAdjust="spacingAndGlyphs">NASDAQ100 TR</text>
<rect x="362.0" y="495.5" width="22.0" height="2" fill="#c4f8d8"/>
<text class="t" x="385.9" y="500.1" font-size="9.8" textLength="45.3" lengthAdjust="spacingAndGlyphs">MSCI ACWI</text>
<rect x="436.4" y="495.5" width="22.0" height="2" fill="#12b058"/>
<text class="t" x="459.6" y="500.1" font-size="9.8" textLength="57.8" lengthAdjust="spacingAndGlyphs">MSCI ACWI TR</text>
<rect x="523.5" y="495.5" width="22.0" height="2" fill="#bcbcbc"/>
<text class="t" x="547.5" y="499.6" font-size="10" font-weight="300" textLength="38.6" lengthAdjust="spacingAndGlyphs">日経平均</text>
<rect x="592.0" y="495.5" width="22.0" height="2" fill="#7f7f7f"/>
<text class="t" x="616.6" y="499.6" font-size="10" font-weight="300" textLength="38.2" lengthAdjust="spacingAndGlyphs">日経平均</text>
<text class="t" x="656.8" y="499.3" font-size="8.8" stroke="#595959" stroke-width="0.35" textLength="10.2" lengthAdjust="spacingAndGlyphs">TR</text>
<rect x="673.0" y="495.5" width="22.0" height="2" fill="#ff0000"/>
<text class="t" x="696.7" y="500.1" font-size="9.8" stroke="#595959" stroke-width="0.35" textLength="27.2" lengthAdjust="spacingAndGlyphs">FANG+</text>
<rect x="729.5" y="495.5" width="22.0" height="2" fill="#c09525"/>
<text class="t" x="754.0" y="499.6" font-size="10" font-weight="300" textLength="39.4" lengthAdjust="spacingAndGlyphs">ゴールド</text>
<rect x="798.6" y="495.5" width="22.0" height="2" fill="#18b2ee"/>
<text class="t" x="822.0" y="499.6" font-size="10" font-weight="300" textLength="59.7" lengthAdjust="spacingAndGlyphs">仮想ゴルプラ</text>
<rect x="887.2" y="495.5" width="22.0" height="2" fill="#7837aa"/>
<text class="t" x="910.2" y="499.6" font-size="10" font-weight="300" textLength="59.6" lengthAdjust="spacingAndGlyphs">仮想ゴルナス</text>
<rect x="0.5" y="0.5" width="1023" height="512" fill="none" stroke="#d9d9d9" stroke-width="1"/>
</svg></body></html>
